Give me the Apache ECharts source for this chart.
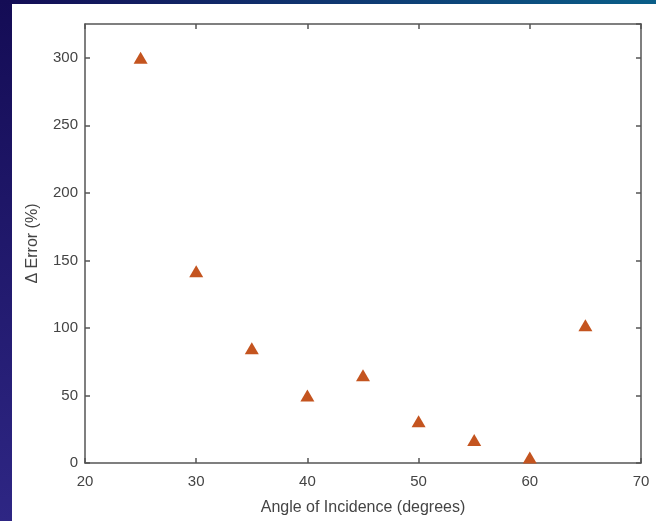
<!DOCTYPE html>
<html>
<head>
<meta charset="utf-8">
<script src="https://cdn.jsdelivr.net/npm/echarts@6/dist/echarts.min.js"></script>
<style>
html,body{margin:0;padding:0;background:#1a1262;}
#chart{width:656px;height:521px;}
</style>
</head>
<body>
<div id="chart"></div>
<script>
const angles = [25, 30, 35, 40, 45, 50, 55, 60, 65];
const deltaError = [300, 142, 85, 50, 65, 31, 17, 4, 102];
const xTicks = [20, 30, 40, 50, 60, 70];
const yTicks = [0, 50, 100, 150, 200, 250, 300];

const chart = echarts.init(document.getElementById('chart'));
const axisColor = '#555555';
const labelColor = '#444444';
const font = 'Liberation Sans, Arial, Helvetica, sans-serif';

chart.setOption({
  backgroundColor: '#ffffff',
  animation: false,
  graphic: [
    { type: 'rect', z: -10, shape: { x: 0, y: 0, width: 656, height: 4 },
      style: { fill: new echarts.graphic.LinearGradient(0, 0, 1, 0, [
        { offset: 0, color: '#140c55' }, { offset: 0.5, color: '#0f3670' }, { offset: 1, color: '#0a5e88' }]) } },
    { type: 'rect', z: -10, shape: { x: 0, y: 0, width: 12, height: 521 },
      style: { fill: new echarts.graphic.LinearGradient(0, 0, 0, 1, [
        { offset: 0, color: '#140c55' }, { offset: 1, color: '#2e2684' }]) } }
  ],
  grid: { left: 85, right: 15, top: 24, bottom: 57, show: false },
  xAxis: [
    {
      type: 'value', min: 20, max: 70, interval: 10, position: 'bottom',
      name: 'Angle of Incidence (degrees)', nameLocation: 'middle', nameGap: 37,
      nameTextStyle: { color: labelColor, fontSize: 16, fontFamily: font },
      axisLine: { show: true, onZero: false, lineStyle: { color: axisColor, width: 1.5 } },
      axisTick: { show: true, inside: true, length: 5, lineStyle: { color: axisColor, width: 1.5 } },
      axisLabel: { color: labelColor, fontSize: 15, fontFamily: font, margin: 11,
        formatter: v => (xTicks.indexOf(v) >= 0 ? String(v) : '') },
      splitLine: { show: false }
    },
    {
      type: 'value', min: 20, max: 70, interval: 10, position: 'top',
      axisLine: { show: true, onZero: false, lineStyle: { color: axisColor, width: 1.5 } },
      axisTick: { show: true, inside: true, length: 5, lineStyle: { color: axisColor, width: 1.5 } },
      axisLabel: { show: false },
      splitLine: { show: false }
    }
  ],
  yAxis: [
    {
      type: 'value', min: 0, max: 325, interval: 50, position: 'left',
      name: 'Δ Error (%)', nameLocation: 'middle', nameGap: 44, nameRotate: 90,
      nameTextStyle: { color: labelColor, fontSize: 16, fontFamily: font },
      axisLine: { show: true, onZero: false, lineStyle: { color: axisColor, width: 1.5 } },
      axisTick: { show: true, inside: true, length: 5, lineStyle: { color: axisColor, width: 1.5 } },
      axisLabel: { color: labelColor, fontSize: 15, fontFamily: font, margin: 7, showMaxLabel: false,
        formatter: v => (yTicks.indexOf(v) >= 0 ? String(v) : '') },
      splitLine: { show: false }
    },
    {
      type: 'value', min: 0, max: 325, interval: 50, position: 'right',
      axisLine: { show: true, onZero: false, lineStyle: { color: axisColor, width: 1.5 } },
      axisTick: { show: true, inside: true, length: 5, lineStyle: { color: axisColor, width: 1.5 } },
      axisLabel: { show: false },
      splitLine: { show: false }
    }
  ],
  series: [{
    type: 'scatter',
    xAxisIndex: 0, yAxisIndex: 0,
    symbol: 'triangle',
    symbolSize: [14, 12],
    itemStyle: { color: '#c4541f', opacity: 1 },
    data: angles.map((a, i) => [a, deltaError[i]])
  }]
});
</script>
</body>
</html>
